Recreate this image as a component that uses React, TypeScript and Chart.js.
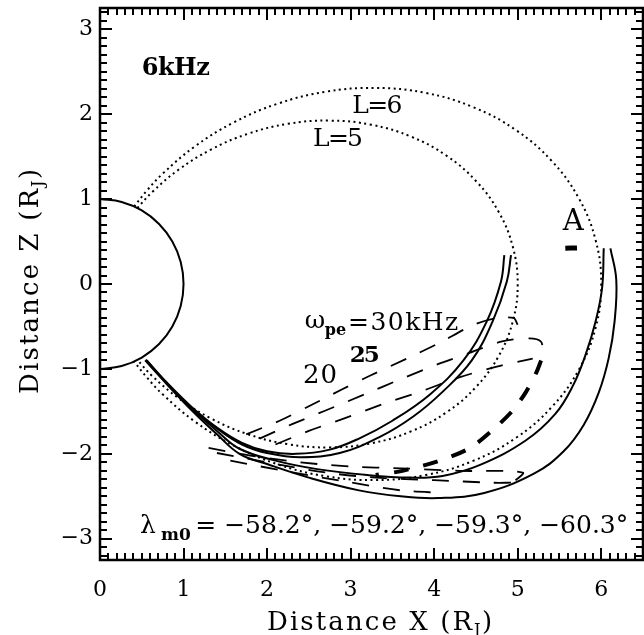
import React, { useEffect, useRef } from 'react';
import { Chart, registerables } from 'chart.js';

Chart.register(...registerables);

// ---------- data ----------
const xTickValues = [0, 1, 2, 3, 4, 5, 6];
const yTickValues = [-3, -2, -1, 0, 1, 2, 3];

const planet = [
  [0, 1], [0.259, 0.966], [0.5, 0.866], [0.707, 0.707], [0.866, 0.5], [0.966, 0.259], [1, 0],
  [0.966, -0.259], [0.866, -0.5], [0.707, -0.707], [0.5, -0.866], [0.259, -0.966], [0, -1],
];

const fieldL5 = [
  [0.447, 0.894], [0.625, 1.083], [0.944, 1.348], [1.328, 1.583], [1.768, 1.768], [2.248, 1.886],
  [2.748, 1.924], [3.248, 1.875], [3.722, 1.736], [4.149, 1.51], [4.506, 1.207], [4.776, 0.842],
  [4.943, 0.433], [5.0, 0], [4.943, -0.433], [4.776, -0.842], [4.506, -1.207], [4.149, -1.51],
  [3.722, -1.736], [3.248, -1.875], [2.748, -1.924], [2.248, -1.886], [1.768, -1.768],
  [1.328, -1.583], [0.944, -1.348], [0.625, -1.083], [0.447, -0.894],
];

const fieldL6 = [
  [0.408, 0.913], [0.562, 1.101], [0.75, 1.299], [1.132, 1.617], [1.594, 1.899], [2.121, 2.121],
  [2.697, 2.263], [3.298, 2.309], [3.897, 2.25], [4.466, 2.083], [4.979, 1.812], [5.407, 1.449],
  [5.731, 1.01], [5.932, 0.519], [6.0, 0], [5.932, -0.519], [5.731, -1.01], [5.407, -1.449],
  [4.979, -1.812], [4.466, -2.083], [3.897, -2.25], [3.298, -2.309], [2.697, -2.263],
  [2.121, -2.121], [1.594, -1.899], [1.132, -1.617], [0.75, -1.299], [0.562, -1.101], [0.408, -0.913],
];

const rayA = [
  [0.55, -0.89], [0.8, -1.16], [1.1, -1.45], [1.4, -1.69], [1.7, -1.87], [2.0, -1.97], [2.35, -2.0],
  [2.75, -1.95], [3.1, -1.82], [3.5, -1.61], [3.95, -1.3], [4.35, -0.9], [4.63, -0.44],
  [4.8, 0.03], [4.84, 0.34],
];
const rayB = [
  [0.56, -0.9], [0.8, -1.17], [1.1, -1.46], [1.4, -1.7], [1.7, -1.89], [2.0, -1.99], [2.4, -2.04],
  [2.87, -1.99], [3.35, -1.8], [3.75, -1.56], [4.1, -1.27], [4.45, -0.9], [4.7, -0.44],
  [4.87, 0.03], [4.92, 0.34],
];
const rayC = [
  [0.55, -0.9], [0.8, -1.17], [1.1, -1.47], [1.4, -1.73], [1.67, -1.94], [2.1, -2.08], [2.6, -2.18],
  [3.2, -2.25], [3.7, -2.28], [4.1, -2.26], [4.55, -2.13], [5.1, -1.84], [5.45, -1.53],
  [5.66, -1.2], [5.81, -0.84], [5.93, -0.45], [6.01, -0.05], [6.03, 0.42],
];
const rayD = [
  [0.54, -0.9], [0.8, -1.18], [1.1, -1.49], [1.4, -1.77], [1.67, -2.0], [2.0, -2.12], [2.5, -2.28],
  [3.1, -2.43], [3.6, -2.5], [4.05, -2.52], [4.6, -2.46], [5.2, -2.23], [5.55, -1.97], [5.79, -1.66],
  [5.97, -1.28], [6.09, -0.87], [6.16, -0.44], [6.18, 0.05], [6.11, 0.42],
];

const contour30 = [
  [1.75, -1.77], [2.15, -1.61], [2.5, -1.44], [2.9, -1.24], [3.23, -1.08], [3.67, -0.88],
  [4.07, -0.69], [4.43, -0.5], [4.7, -0.41], [4.95, -0.4], [5.0, -0.48],
];
const contour25 = [
  [1.91, -1.82], [2.3, -1.65], [2.7, -1.49], [3.19, -1.29], [3.6, -1.12], [4.03, -0.95],
  [4.4, -0.82], [4.8, -0.68], [5.14, -0.64], [5.28, -0.68], [5.3, -0.82],
];
const contour25Lower = [
  [5.28, -0.9], [5.22, -1.05], [5.1, -1.27], [4.94, -1.49], [4.7, -1.72], [4.43, -1.93],
  [4.07, -2.08], [3.62, -2.2], [3.3, -2.25],
];
const contour20 = [
  [2.1, -1.89], [2.5, -1.73], [2.9, -1.59], [3.4, -1.41], [3.8, -1.28], [4.3, -1.1],
  [4.8, -0.96], [5.18, -0.88],
];
const lowerBranch1 = [
  [1.3, -1.93], [1.8, -2.02], [2.4, -2.1], [3.0, -2.15], [3.6, -2.17], [4.3, -2.2], [5.06, -2.22],
  [4.94, -2.34],
];
const lowerBranch2 = [
  [1.4, -1.99], [2.0, -2.1], [2.7, -2.22], [3.3, -2.28], [4.0, -2.31], [4.7, -2.34], [4.94, -2.34],
];
const lowerBranch3 = [
  [1.56, -2.08], [2.2, -2.2], [2.9, -2.32], [3.6, -2.43], [4.1, -2.46],
];
const sourceA = [[5.57, 0.42], [5.71, 0.425]];

const lambdaValues = ['−58.2°', '−59.2°', '−59.3°', '−60.3°'];

// ---------- text annotations (data coordinates) ----------
const SERIF = '"DejaVu Serif", serif';
type Note = { text: string; x: number; y: number; size: number; bold?: boolean; width?: number };
const notes: Note[] = [
  { text: '6kHz', x: 0.5, y: 2.46, size: 24, bold: true, width: 68 },
  { text: 'L=6', x: 3.02, y: 2.01, size: 25, width: 50 },
  { text: 'L=5', x: 2.55, y: 1.63, size: 25, width: 50 },
  { text: 'A', x: 5.54, y: 0.64, size: 29 },
  { text: 'ω', x: 2.45, y: -0.52, size: 25 },
  { text: 'pe', x: 2.69, y: -0.6, size: 16, bold: true },
  { text: '=30kHz', x: 2.97, y: -0.54, size: 25, width: 110 },
  { text: '25', x: 2.99, y: -0.92, size: 23, bold: true, width: 30 },
  { text: '20', x: 2.43, y: -1.17, size: 26, width: 34 },
  { text: 'λ', x: 0.48, y: -2.93, size: 25 },
  { text: 'm0', x: 0.73, y: -3.01, size: 17, bold: true },
  { text: '= ' + lambdaValues.join(', '), x: 1.14, y: -2.93, size: 25, width: 433 },
];

const toXY = (arr: number[][]) => arr.map(([x, y]) => ({ x, y }));

function put(ctx: CanvasRenderingContext2D, s: string, px: number, py: number, font: string, w?: number) {
  ctx.font = font;
  (ctx as any).letterSpacing = '0px';
  if (w) {
    const m = ctx.measureText(s).width;
    const n = Array.from(s).length;
    const ls = (w - m) / Math.max(1, n - 1);
    (ctx as any).letterSpacing = ls + 'px';
  }
  ctx.fillText(s, px, py);
  (ctx as any).letterSpacing = '0px';
}

const decor = {
  id: 'decor',
  afterDraw(chart: any) {
    const { ctx, chartArea } = chart;
    const { left, right, top, bottom } = chartArea;
    const xs = chart.scales.x;
    const ys = chart.scales.y;
    ctx.save();
    ctx.setLineDash([]);
    ctx.lineCap = 'butt';
    ctx.strokeStyle = '#000';
    ctx.fillStyle = '#000';
    // minor / major ticks on all four sides, pointing inward
    for (let i = 0; i <= 64; i++) {
      const px = Math.round(xs.getPixelForValue(i / 10));
      const major = i % 10 === 0;
      const len = major ? 12 : 7;
      ctx.lineWidth = 2;
      ctx.beginPath();
      ctx.moveTo(px, bottom); ctx.lineTo(px, bottom - len);
      ctx.moveTo(px, top); ctx.lineTo(px, top + len);
      ctx.stroke();
    }
    for (let i = -32; i <= 32; i++) {
      const py = Math.round(ys.getPixelForValue(i / 10));
      const major = i % 10 === 0;
      const len = major ? 12 : 7;
      ctx.lineWidth = 2;
      ctx.beginPath();
      ctx.moveTo(left, py); ctx.lineTo(left + len, py);
      ctx.moveTo(right, py); ctx.lineTo(right - len, py);
      ctx.stroke();
    }
    ctx.lineWidth = 2.5;
    ctx.strokeRect(left, top, right - left, bottom - top);

    // annotations
    ctx.textAlign = 'left';
    ctx.textBaseline = 'alphabetic';
    for (const n of notes) {
      const px = xs.getPixelForValue(n.x);
      const py = ys.getPixelForValue(n.y);
      put(ctx, n.text, px, py, `${n.bold ? 'bold ' : ''}${n.size}px ${SERIF}`, n.width);
    }

    // axis titles
    put(ctx, 'Distance X (R', 267, 630, `26px ${SERIF}`, 205);
    put(ctx, 'J', 474, 635, `16px ${SERIF}`);
    put(ctx, ')', 482, 630, `26px ${SERIF}`);

    ctx.translate(38, 394);
    ctx.rotate(-Math.PI / 2);
    put(ctx, 'Distance Z (R', 0, 0, `26px ${SERIF}`, 205);
    put(ctx, 'J', 207, 5, `16px ${SERIF}`);
    put(ctx, ')', 215, 0, `26px ${SERIF}`);
    ctx.restore();
  },
};

export default function App() {
  const ref = useRef<HTMLCanvasElement | null>(null);
  useEffect(() => {
    document.body.style.margin = '0';
    document.body.style.overflow = 'hidden';
    const canvas = ref.current!;
    const solid = (d: number[][], w = 2) => ({
      data: toXY(d), showLine: true, borderColor: '#000', borderWidth: w, pointRadius: 0, tension: 0.4, fill: false,
    });
    const dashed = (d: number[][], dash: number[], w: number, t = 0.3) => ({
      data: toXY(d), showLine: true, borderColor: '#000', borderWidth: w, pointRadius: 0, tension: t, fill: false,
      borderDash: dash,
    });
    const chart = new Chart(canvas, {
      type: 'scatter',
      data: {
        datasets: [
          solid(planet, 2),
          dashed(fieldL5, [2, 3.5], 2, 0.4),
          dashed(fieldL6, [2, 3.5], 2, 0.4),
          solid(rayA),
          solid(rayB),
          solid(rayC),
          solid(rayD),
          dashed(contour30, [17, 15], 1.8),
          dashed(contour25, [17, 15], 1.8),
          dashed(contour25Lower, [15, 15], 4),
          dashed(contour20, [17, 15], 1.8),
          dashed(lowerBranch1, [17, 14], 1.8),
          dashed(lowerBranch2, [17, 14], 1.8),
          dashed(lowerBranch3, [17, 14], 1.8),
          solid(sourceA, 5),
        ] as any,
      },
      options: {
        responsive: false,
        animation: false,
        events: [],
        layout: { padding: { left: 0, top: 8, right: 1, bottom: 0 } },
        plugins: { legend: { display: false }, tooltip: { enabled: false } },
        scales: {
          x: {
            type: 'linear', min: 0, max: 6.5,
            grid: { display: false, drawTicks: false },
            border: { display: false },
            ticks: { color: '#000', font: { family: 'DejaVu Serif', size: 22 }, padding: 17, maxRotation: 0, autoSkip: false },
            afterBuildTicks: (s: any) => { s.ticks = xTickValues.map((v) => ({ value: v })); },
            afterFit: (s: any) => { s.height = 75; s.paddingLeft = 0; s.paddingRight = 0; },
          },
          y: {
            type: 'linear', min: -3.25, max: 3.25,
            grid: { display: false, drawTicks: false },
            border: { display: false },
            ticks: {
              color: '#000', font: { family: 'DejaVu Serif', size: 22 }, padding: 7, autoSkip: false,
              callback: (v: any) => (v < 0 ? '−' + Math.abs(v) : String(v)),
            },
            afterBuildTicks: (s: any) => { s.ticks = yTickValues.map((v) => ({ value: v })); },
            afterFit: (s: any) => { s.width = 100; s.paddingTop = 0; s.paddingBottom = 0; },
          },
        },
      } as any,
      plugins: [decor],
    });
    return () => chart.destroy();
  }, []);
  return <canvas ref={ref} width={644} height={635} style={{ display: 'block' }} />;
}
